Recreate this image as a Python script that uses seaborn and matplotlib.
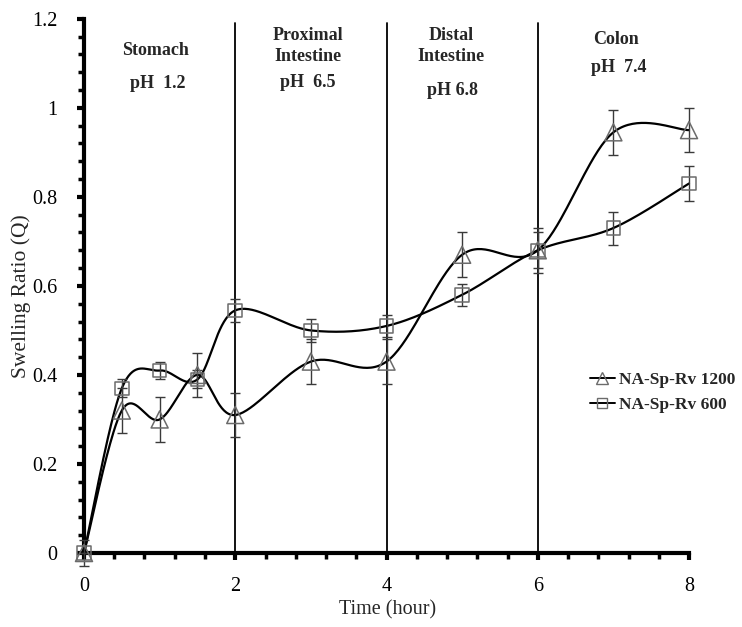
import numpy as np
import matplotlib
matplotlib.use("Agg")
import matplotlib.pyplot as plt
import seaborn as sns
import pandas as pd
from matplotlib.lines import Line2D

# ---- data ----
time_h = [0, 0.5, 1, 1.5, 2, 3, 4, 5, 6, 7, 8]
ratio_1200 = [0, 0.32, 0.30, 0.40, 0.31, 0.43, 0.43, 0.67, 0.68, 0.945, 0.95]
err_1200 = [0.03, 0.05, 0.05, 0.05, 0.05, 0.05, 0.05, 0.05, 0.05, 0.05, 0.05]
ratio_600 = [0, 0.37, 0.41, 0.39, 0.545, 0.50, 0.51, 0.58, 0.68, 0.73, 0.83]
err_600 = [0.0, 0.02, 0.02, 0.02, 0.025, 0.025, 0.025, 0.025, 0.04, 0.037, 0.04]
series_labels = ["NA-Sp-Rv 1200", "NA-Sp-Rv 600"]
phase_bounds = [2, 4, 6]
phase_names = ["Stomach", "Proximal\nIntestine", "Distal\nIntestine", "Colon"]
phase_ph = ["pH  1.2", "pH  6.5", "pH 6.8", "pH  7.4"]
x_ticks = [0, 2, 4, 6, 8]
y_ticks = [0, 0.2, 0.4, 0.6, 0.8, 1.0, 1.2]
y_tick_labels = ["0", "0.2", "0.4", "0.6", "0.8", "1", "1.2"]

# ---- style ----
sns.set_style("ticks")
plt.rcParams["font.family"] = ["Liberation Serif", "DejaVu Serif"]

fig = plt.figure(figsize=(7.42, 6.27), dpi=100)
ax = fig.add_axes([0.1132, 0.118, 0.8154, 0.852])


def smooth(xs, ys, n=40):
    """Excel-like smoothed line (Catmull-Rom as cubic Bezier) through the points."""
    P = np.column_stack([xs, ys]).astype(float)
    out = []
    for i in range(len(P) - 1):
        p0 = P[i - 1] if i > 0 else P[i]
        p1 = P[i]
        p2 = P[i + 1]
        p3 = P[i + 2] if i + 2 < len(P) else P[i + 1]
        c1 = p1 + (p2 - p0) / 6.0
        c2 = p2 - (p3 - p1) / 6.0
        t = np.linspace(0, 1, n)[:, None]
        seg = ((1 - t) ** 3) * p1 + 3 * ((1 - t) ** 2) * t * c1 + 3 * (1 - t) * t ** 2 * c2 + t ** 3 * p2
        out.append(seg if i == 0 else seg[1:])
    S = np.vstack(out)
    return S[:, 0], S[:, 1]


# phase boundaries
for b in phase_bounds:
    ax.plot([b, b], [0, 1.19], color="black", lw=1.3, zorder=2, clip_on=False)

marker_edge = "#6b6b6b"
err_col = "#3a3a3a"

series = [
    (ratio_1200, err_1200, "^", 150),
    (ratio_600, err_600, "s", 95),
]
for (vals, errs, mk, sz), lab in zip(series, series_labels):
    sx, sy = smooth(time_h, vals)
    ax.plot(sx, sy, color="black", lw=1.6, zorder=3, clip_on=False)
    ax.errorbar(time_h, vals, yerr=errs, fmt="none", ecolor=err_col, elinewidth=1.0,
                capsize=3.5, capthick=1.0, zorder=4, clip_on=False)
    sns.scatterplot(x=time_h, y=vals, marker=mk, s=sz, facecolor="none",
                    edgecolor=marker_edge, linewidth=1.1, ax=ax, zorder=5, clip_on=False)

# axes
ax.set_xlim(0, 8)
ax.set_ylim(0, 1.2)
ax.set_xticks(x_ticks)
ax.set_xticklabels([str(v) for v in x_ticks])
ax.set_yticks(y_ticks)
ax.set_yticklabels(y_tick_labels)
ax.set_xticks(np.arange(0, 8.01, 0.4), minor=True)
ax.set_yticks(np.arange(0, 1.201, 0.04), minor=True)
sns.despine(ax=ax)
for sp in ["left", "bottom"]:
    ax.spines[sp].set_linewidth(3.0)
    ax.spines[sp].set_color("black")
ax.tick_params(axis="both", which="major", direction="out", length=5, width=3,
               labelsize=14.5, colors="black")
ax.tick_params(axis="both", which="minor", direction="out", length=4, width=2.5, colors="black")
ax.tick_params(axis="x", which="major", pad=12)
ax.tick_params(axis="y", which="major", pad=14)

ax.set_xlabel("Time (hour)", fontsize=14.5)
ax.set_ylabel("Swelling Ratio (Q)", fontsize=15.5)
ax.xaxis.set_label_coords(0.502, -0.088)
ax.yaxis.set_label_coords(-0.088, 0.481)

# phase labels
name_pos = [(0.95, 1.128), (2.96, 1.139), (4.85, 1.139), (7.03, 1.153)]
ph_pos = [(0.98, 1.054), (2.96, 1.058), (4.87, 1.040), (7.07, 1.090)]
for (nx, ny), name in zip(name_pos, phase_names):
    ax.text(nx, ny, name, ha="center", va="center", fontsize=13, fontweight="bold",
            linespacing=1.3)
for (px, py), ph in zip(ph_pos, phase_ph):
    ax.text(px, py, ph, ha="center", va="center", fontsize=13, fontweight="bold")

# legend
handles = [
    Line2D([], [], color="black", lw=1.4, marker="^", markersize=9,
           markerfacecolor="none", markeredgecolor=marker_edge),
    Line2D([], [], color="black", lw=1.4, marker="s", markersize=7.5,
           markerfacecolor="none", markeredgecolor=marker_edge),
]
leg = fig.legend(handles, series_labels, loc="upper left", bbox_to_anchor=(0.795, 0.4067),
                 frameon=False, handlelength=1.45, handletextpad=0.2, labelspacing=0.5,
                 borderpad=0, borderaxespad=0, prop={"size": 12.5, "weight": "bold"})

fig.savefig("out.png", dpi=100)
